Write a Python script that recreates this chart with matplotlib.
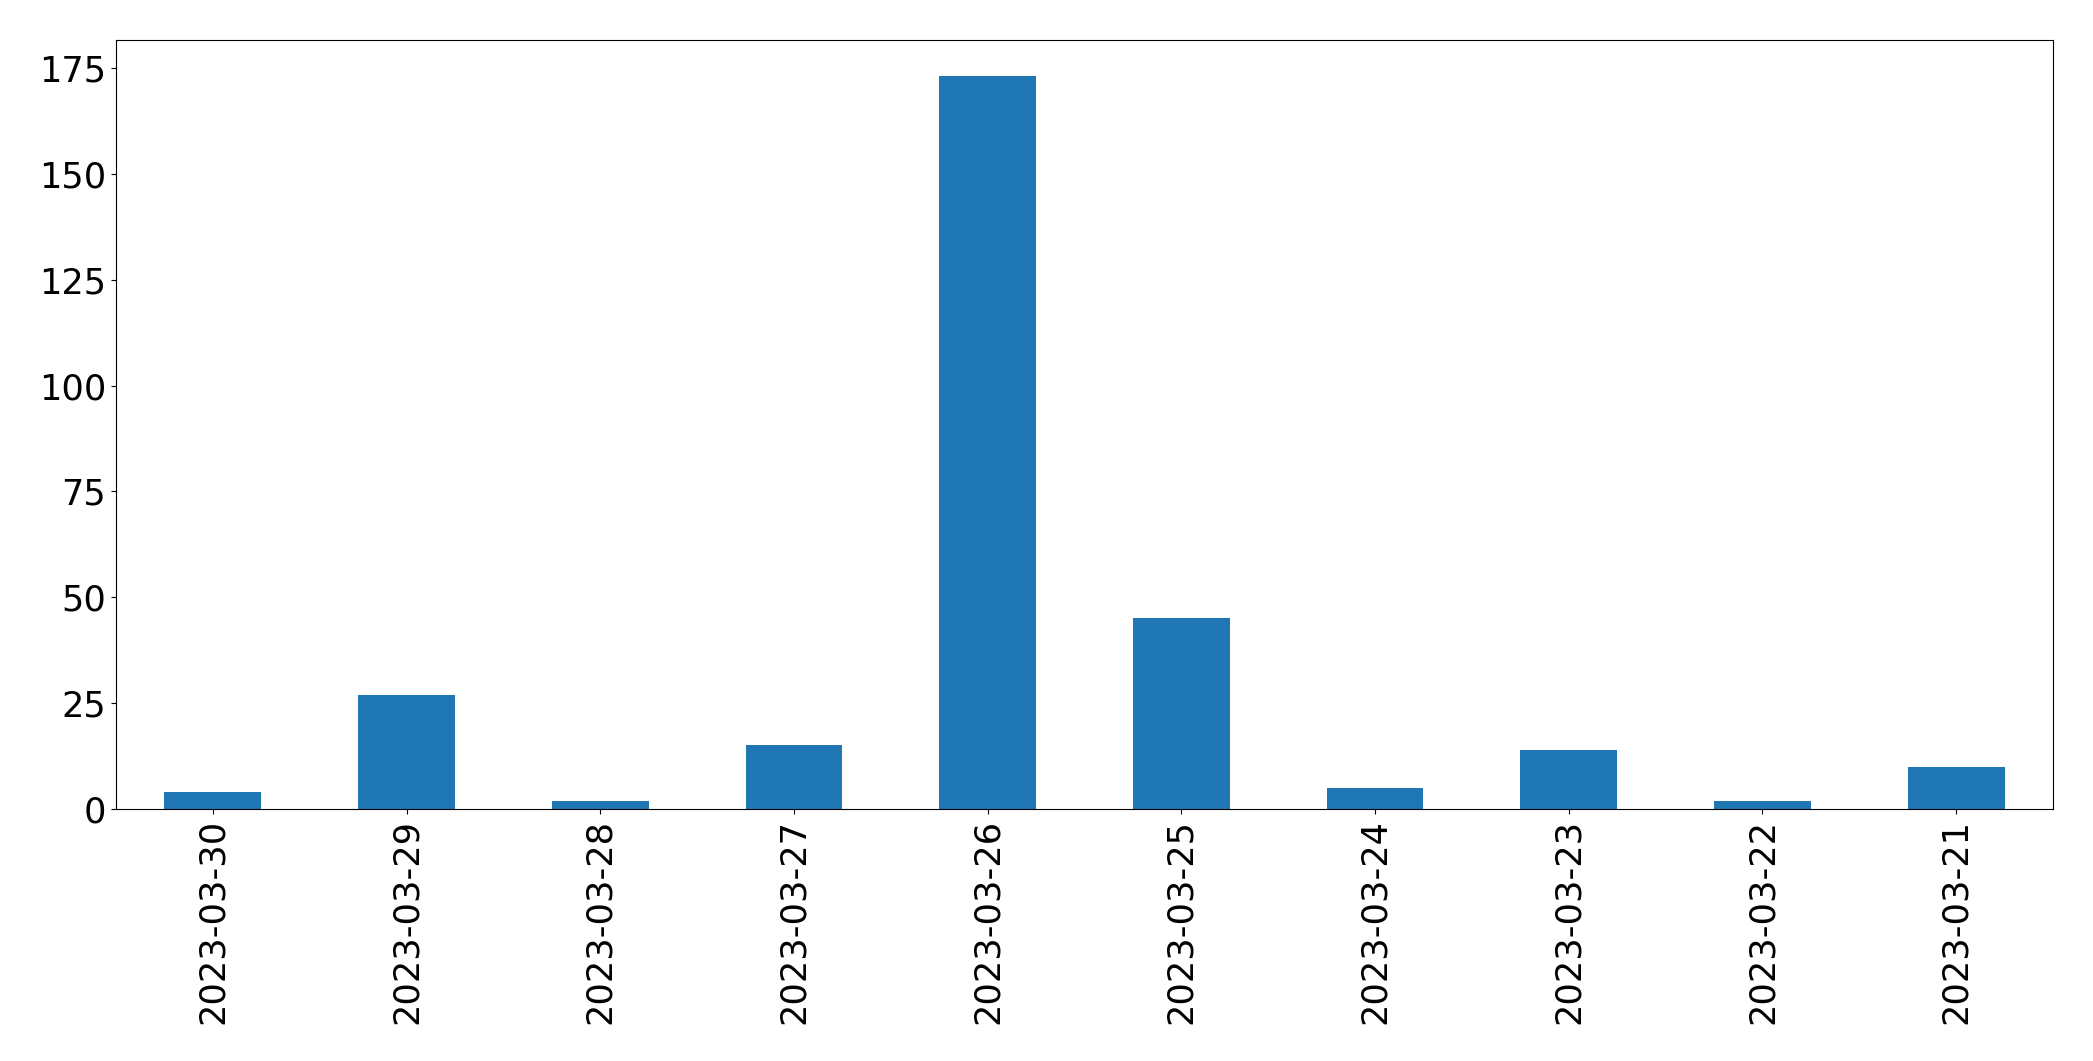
import matplotlib
matplotlib.use("Agg")
import matplotlib.pyplot as plt

dates = ["2023-03-30", "2023-03-29", "2023-03-28", "2023-03-27", "2023-03-26",
         "2023-03-25", "2023-03-24", "2023-03-23", "2023-03-22", "2023-03-21"]
counts = [4, 27, 2, 15, 173, 45, 5, 14, 2, 10]

fig = plt.figure(figsize=(20.93, 10.61), dpi=100)
ax = fig.add_axes([116/2093, 1 - 809/1061, (2053-116)/2093, (809-40)/1061])
x = range(len(dates))
ax.bar(x, counts, width=0.5, color="#1f77b4")
ax.set_xticks(list(x))
ax.set_xticklabels(dates, rotation=90)
ax.set_xlim(-0.5, len(dates) - 0.5)
ax.set_ylim(0, 181.6)
ax.tick_params(labelsize=25.3)
fig.savefig("out.png", dpi=100)
